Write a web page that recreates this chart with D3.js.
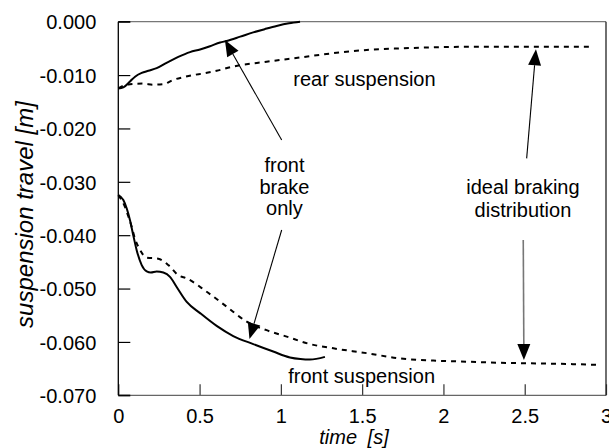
<!DOCTYPE html>
<html>
<head>
<meta charset="utf-8">
<script src="https://cdn.jsdelivr.net/npm/d3@7/dist/d3.min.js"></script>
<style>
  html, body { margin: 0; padding: 0; background: #fff; }
  svg { display: block; }
  text { font-family: "Liberation Sans", Arial, Helvetica, sans-serif; fill: #000; }
</style>
</head>
<body>
<svg id="chart" width="609" height="448"></svg>
<script>
// ---- data ----
const xTicks = [0, 0.5, 1, 1.5, 2, 2.5, 3];
const xTickLabels = ["0", "0.5", "1", "1.5", "2", "2.5", "3"];
const yTicks = [0, -0.01, -0.02, -0.03, -0.04, -0.05, -0.06, -0.07];
const yTickLabels = ["0.000", "-0.010", "-0.020", "-0.030", "-0.040", "-0.050", "-0.060", "-0.070"];

// rear suspension, front brake only (solid)
const rearFrontBrakeT = [0, 0.031, 0.072, 0.103, 0.144, 0.185, 0.236, 0.297, 0.369, 0.441, 0.503, 0.564, 0.626, 0.667, 0.75, 0.83, 0.9, 0.974, 1.05, 1.118];
const rearFrontBrakeV = [-0.0125, -0.0123, -0.0112, -0.0103, -0.0096, -0.0092, -0.0087, -0.0077, -0.0066, -0.0057, -0.0052, -0.0046, -0.0039, -0.0036, -0.0028, -0.0020, -0.0014, -0.0008, -0.0003, 0.0000];

// rear suspension, ideal braking distribution (dashed)
const rearIdealT = [0, 0.04, 0.072, 0.154, 0.215, 0.277, 0.338, 0.4, 0.461, 0.523, 0.605, 0.707, 0.912, 1.118, 1.323, 1.528, 1.733, 1.938, 2.143, 2.35, 2.55, 2.75, 2.91];
const rearIdealV = [-0.0125, -0.0119, -0.0117, -0.0116, -0.0118, -0.0117, -0.0109, -0.0104, -0.0100, -0.0097, -0.0092, -0.0084, -0.0075, -0.0067, -0.0059, -0.0053, -0.0050, -0.0048, -0.0047, -0.0047, -0.0047, -0.0047, -0.0047];

// front suspension, front brake only (solid)
const frontFrontBrakeT = [0, 0.031, 0.052, 0.072, 0.092, 0.113, 0.144, 0.175, 0.2, 0.236, 0.277, 0.318, 0.359, 0.421, 0.503, 0.605, 0.707, 0.83, 0.953, 1.056, 1.12, 1.179, 1.271];
const frontFrontBrakeV = [-0.0325, -0.0334, -0.0350, -0.0372, -0.0400, -0.0428, -0.0456, -0.0468, -0.0470, -0.0468, -0.0470, -0.0478, -0.0497, -0.0525, -0.0546, -0.0570, -0.0589, -0.0604, -0.0618, -0.0629, -0.0632, -0.0633, -0.0628];

// front suspension, ideal braking distribution (dashed)
const frontIdealT = [0, 0.041, 0.062, 0.082, 0.102, 0.129, 0.175, 0.246, 0.308, 0.369, 0.421, 0.544, 0.667, 0.79, 0.912, 1.036, 1.179, 1.323, 1.528, 1.733, 1.938, 2.143, 2.348, 2.512, 2.717, 2.95];
const frontIdealV = [-0.0325, -0.0347, -0.0365, -0.0384, -0.0406, -0.0425, -0.0442, -0.0444, -0.0456, -0.0475, -0.0481, -0.0506, -0.0534, -0.0562, -0.0578, -0.0590, -0.0604, -0.0612, -0.0621, -0.0631, -0.0635, -0.0637, -0.0639, -0.0640, -0.0641, -0.0643];

// annotation texts (anchored in data coordinates: centre x, baseline y)
const labelTexts = ["rear suspension", "front", "brake", "only", "ideal braking", "distribution", "front suspension"];
const labelT = [1.514, 1.022, 1.022, 1.022, 2.489, 2.489, 1.497];
const labelV = [-0.0120, -0.02816, -0.03228, -0.03631, -0.03228, -0.0365, -0.06775];

// annotation arrows (from -> tip, data coordinates)
const arrowFromT = [1.005, 1.005, 2.512, 2.491];
const arrowFromV = [-0.02218, -0.03903, -0.0256, -0.0409];
const arrowToT = [0.656, 0.807, 2.569, 2.495];
const arrowToV = [-0.00343, -0.05945, -0.00517, -0.0634];
const arrowColor = ["#000", "#000", "#000", "#777"];

// ---- layout ----
const pL = 118.3, pR = 606, pT = 21.7, pB = 395.3;
const svg = d3.select("#chart");
const x = d3.scaleLinear().domain([0, 3]).range([pL, pR]);
const y = d3.scaleLinear().domain([-0.07, 0]).range([pB, pT]);

// axes (ticks inward)
const yAxis = d3.axisLeft(y).tickValues(yTicks).tickFormat((d, i) => yTickLabels[i]).tickSizeInner(-12).tickSizeOuter(0).tickPadding(22);
const gy = svg.append("g").attr("transform", `translate(${pL},0)`).call(yAxis);
gy.select(".domain").remove();
gy.selectAll(".tick line").attr("stroke", "#000").attr("stroke-width", 1.2);
gy.selectAll(".tick text").attr("font-size", 20).attr("font-family", "Liberation Sans, Arial, sans-serif").attr("fill", "#000").attr("dy", "0.36em");

const xAxis = d3.axisBottom(x).tickValues(xTicks).tickFormat((d, i) => xTickLabels[i]).tickSizeInner(-11).tickSizeOuter(0).tickPadding(14);
const gx = svg.append("g").attr("transform", `translate(0,${pB})`).call(xAxis);
gx.select(".domain").remove();
gx.selectAll(".tick line").attr("stroke", "#333").attr("stroke-width", 1.2);
gx.selectAll(".tick text").attr("font-size", 20).attr("font-family", "Liberation Sans, Arial, sans-serif").attr("fill", "#000").attr("dy", "0.68em");

// frame
svg.append("line").attr("x1", pL).attr("x2", pR).attr("y1", pT).attr("y2", pT).attr("stroke", "#777").attr("stroke-width", 1.3);
svg.append("line").attr("x1", pL).attr("x2", pR).attr("y1", pB).attr("y2", pB).attr("stroke", "#666").attr("stroke-width", 1.3);
svg.append("line").attr("x1", pR).attr("x2", pR).attr("y1", pT).attr("y2", pB).attr("stroke", "#222").attr("stroke-width", 1.3);
svg.append("line").attr("x1", pL).attr("x2", pL).attr("y1", pT).attr("y2", pB).attr("stroke", "#000").attr("stroke-width", 1.3);
svg.append("line").attr("x1", pL).attr("x2", pL + 12).attr("y1", pT).attr("y2", pT).attr("stroke", "#000").attr("stroke-width", 1.3);
svg.append("line").attr("x1", pL).attr("x2", pL + 12).attr("y1", pB).attr("y2", pB).attr("stroke", "#000").attr("stroke-width", 1.3);

// series
const line = d3.line().x(d => x(d[0])).y(d => y(d[1])).curve(d3.curveMonotoneX);
function draw(ts, vs, dashed) {
  svg.append("path")
    .datum(ts.map((t, i) => [t, vs[i]]))
    .attr("d", line)
    .attr("fill", "none")
    .attr("stroke", "#000")
    .attr("stroke-width", 2)
    .attr("stroke-dasharray", dashed ? "5,5" : null);
}
draw(rearIdealT, rearIdealV, true);
draw(frontIdealT, frontIdealV, true);
draw(rearFrontBrakeT, rearFrontBrakeV, false);
draw(frontFrontBrakeT, frontFrontBrakeV, false);

// arrows
arrowFromT.forEach((t0, i) => {
  const x0 = x(t0), y0 = y(arrowFromV[i]);
  const x1 = x(arrowToT[i]), y1 = y(arrowToV[i]);
  const dx = x1 - x0, dy = y1 - y0, L = Math.hypot(dx, dy);
  const ux = dx / L, uy = dy / L;
  const hl = 16, hw = 6.5;
  const bx = x1 - ux * hl, by = y1 - uy * hl;
  svg.append("line").attr("x1", x0).attr("y1", y0).attr("x2", bx).attr("y2", by)
    .attr("stroke", arrowColor[i]).attr("stroke-width", i === 3 ? 1.6 : 1.1);
  svg.append("path")
    .attr("d", `M${x1},${y1}L${bx - uy * hw},${by + ux * hw}L${bx + uy * hw},${by - ux * hw}Z`)
    .attr("fill", "#000");
});

// annotation texts
labelTexts.forEach((s, i) => {
  svg.append("text").attr("x", x(labelT[i])).attr("y", y(labelV[i]))
    .attr("text-anchor", "middle").attr("font-size", 20).text(s);
});

// axis titles
svg.append("text").attr("x", 354).attr("y", 443.5).attr("text-anchor", "middle")
  .attr("font-size", 20).attr("font-style", "italic").style("word-spacing", "5px").text("time [s]");
svg.append("text").attr("transform", "translate(33,214.5) rotate(-90)").attr("text-anchor", "middle")
  .attr("font-size", 24).attr("font-style", "italic").text("suspension travel [m]");
</script>
</body>
</html>
